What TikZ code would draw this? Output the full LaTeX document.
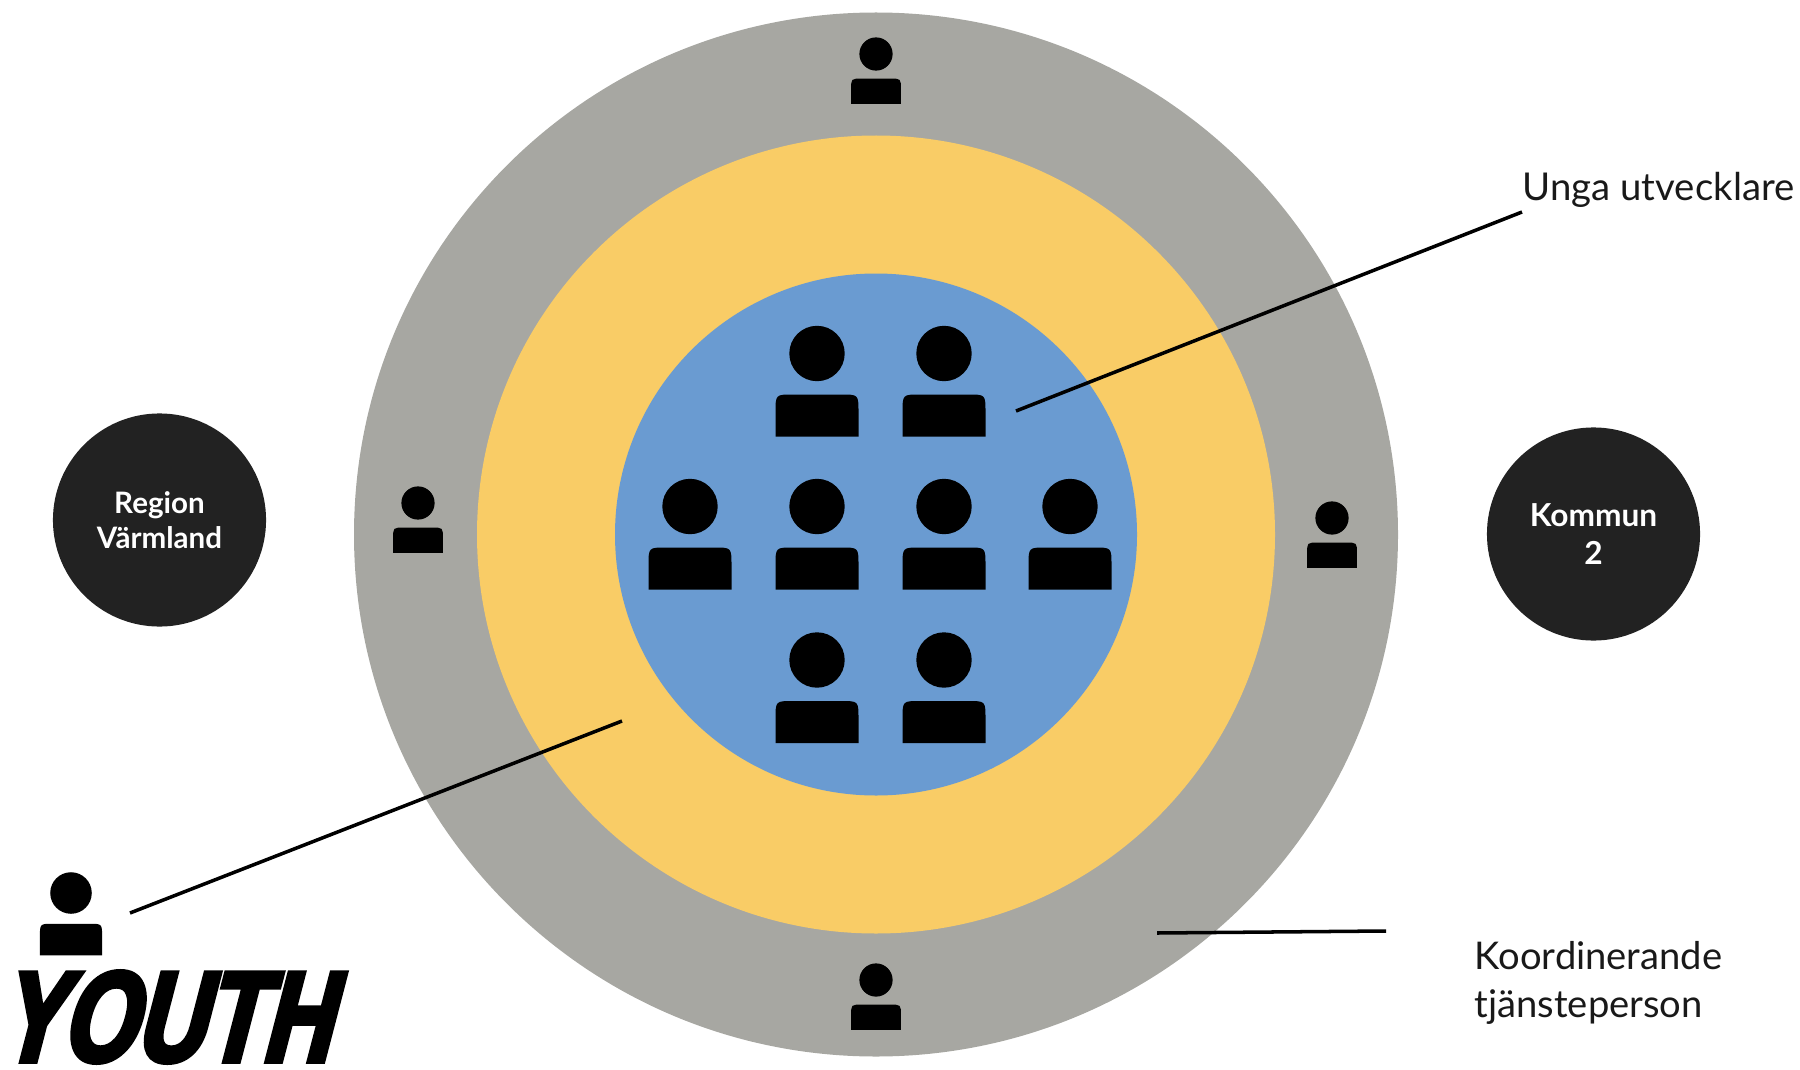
\documentclass[tikz,border=0pt]{standalone}
\usepackage{fontspec}
\setmainfont{Lato}
\newfontfamily\youthfont[FakeBold=4,FakeSlant=0.26,FakeStretch=0.74]{Liberation Sans Bold}
\definecolor{ringGray}{HTML}{A7A7A2}
\definecolor{ringYellow}{HTML}{F9CC66}
\definecolor{ringBlue}{HTML}{6A9BD1}
\definecolor{darkDisc}{HTML}{222222}
\tikzset{
  person/.pic={
    \fill[black] (0,0) circle (27.7);
    \fill[black] (-41.5,83) -- (-41.5,59) .. controls (-41.5,41) .. (-24,41)
      -- (24,41) .. controls (41.5,41) .. (41.5,59) -- (41.5,83) -- cycle;
  },
  disc/.style={circle,fill=darkDisc,text=white,minimum size=2.13cm,inner sep=0pt,align=center,font=\bfseries},
  lead/.style={line width=1pt,black},
  label/.style={anchor=west,align=left,text=black!90}
}

\begin{document}
\begin{tikzpicture}[x=0.01cm,y=-0.01cm]
\useasboundingbox (0,0) rectangle (1800,1070);
\def\Cx{876}
\def\Cy{534.5}

% rings
\fill[ringGray] (\Cx,\Cy) circle (522);
\fill[ringYellow] (\Cx,\Cy) circle (399);
\fill[ringBlue] (\Cx,\Cy) circle (261);

% unga utvecklare
\foreach \x/\y in {817/353.5,944/353.5,690/506.5,817/506.5,944/506.5,1070/506.5,817/660,944/660}
  \pic at (\x,\y) {person};

% tjansteperson
\foreach \x/\y in {876/54,418/503,1332/518,876/980}
  \pic[scale=0.6] at (\x,\y) {person};

\pic[scale=0.75] at (71,893) {person};

\node[disc,font=\bfseries\fontsize{8.4pt}{10pt}\selectfont] (region) at (159.5,520) {Region\\Värmland};
\node[disc,font=\bfseries\fontsize{9pt}{10.6pt}\selectfont] (kommun) at (1593.5,534) {Kommun\\2};

\node[label,inner sep=0pt,font=\fontsize{10.9pt}{11pt}\selectfont] (unga) at (1522,190) {Unga utvecklare};
\node[label,inner sep=0pt,font=\fontsize{10.85pt}{13.6pt}\selectfont] (koord) at (1474,983) {Koordinerande\\tjänsteperson};
\node[inner sep=0pt,font=\youthfont\fontsize{36.5pt}{37pt}\selectfont] (youth) at (163,1017) {YOUTH};

\coordinate (ungaTop) at (1522,212);
\coordinate (ungaEnd) at (1016,411);
\coordinate (youthTop) at (130,913);
\coordinate (youthEnd) at (622,721);
\coordinate (koordFrom) at (1157,933);
\coordinate (koordTo) at (1386,931);

\draw[lead] (ungaTop) -- (ungaEnd);
\draw[lead] (youthTop) -- (youthEnd);
\draw[lead] (koordFrom) -- (koordTo);
\end{tikzpicture}
\end{document}
